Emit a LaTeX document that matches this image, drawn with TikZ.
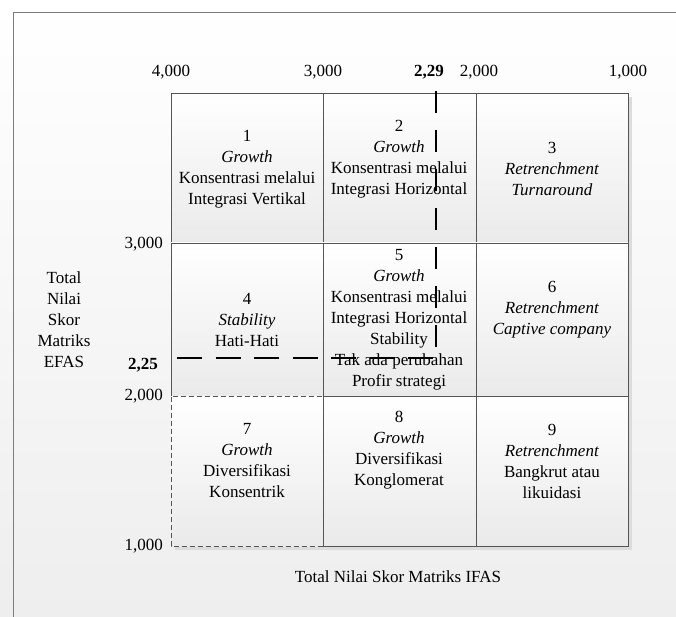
\documentclass[tikz,border=0pt]{standalone}
\usepackage{fontspec}
\setmainfont{Liberation Serif}
\usepackage{tikz}
\usetikzlibrary{positioning, calc}
\definecolor{gridgray}{RGB}{85,85,85}
\definecolor{cellbot}{RGB}{234,234,234}
\definecolor{bgbot}{RGB}{238,238,238}
\definecolor{shadowgray}{RGB}{220,220,220}
\definecolor{framegray}{RGB}{125,125,125}
\newcommand{\matfont}{\fontsize{17pt}{21pt}\selectfont}
\tikzset{
  cellbox/.style={draw=gridgray, line width=0.9pt,
    top color=white, bottom color=cellbot},
  dashbox/.style={draw=gridgray, line width=0.7pt,
    dash pattern=on 5pt off 3pt},
  shadowbox/.style={fill=shadowgray, draw=none},
  celltext/.style={align=center, inner sep=0pt, font=\matfont},
  axislabel/.style={inner sep=0pt, font=\matfont},
  scorelabel/.style={inner sep=0pt, font=\matfont\bfseries},
  cutline/.style={line width=2.6pt, color=black}
}

\begin{document}
\begin{tikzpicture}[x=1pt, y=-1pt, font=\matfont]
  % page and frame
  \useasboundingbox (0,0) rectangle (676,617);
  \shade[top color=white, bottom color=bgbot] (0,0) rectangle (676,617);
  \draw[framegray, line width=0.8pt] (13,617) -- (13,12) -- (676,12);
  % shadow of the grid
  \fill[shadowbox] (175,97) rectangle (632,550);
  % cells, row 1
  \draw[cellbox] (171,93) rectangle (323,243);
  \draw[cellbox] (323,93) rectangle (476,243);
  \draw[cellbox] (476,93) rectangle (628,243);
  % cells, row 2
  \draw[cellbox] (171,243) rectangle (323,396);
  \draw[cellbox] (323,243) rectangle (476,396);
  \draw[cellbox] (476,243) rectangle (628,396);
  % cells, row 3
  \shade[top color=white, bottom color=cellbot] (171,396) rectangle (323,546);
  \draw[cellbox] (323,396) rectangle (476,546);
  \draw[cellbox] (476,396) rectangle (628,546);
  \draw[white, line width=1pt] (171,396) -- (323,396);
  \draw[dashbox] (323,546) -- (171,546) -- (171,396) -- (323,396);
  % cell texts
  \node[celltext] (c1) at (247,169) {1\\\textit{Growth}\\Konsentrasi melalui\\Integrasi Vertikal};
  \node[celltext] (c2) at (399,159) {2\\\textit{Growth}\\Konsentrasi melalui\\Integrasi Horizontal};
  \node[celltext] (c3) at (552,169) {3\\\textit{Retrenchment}\\\textit{Turnaround}};
  \node[celltext] (c4) at (247,320) {4\\\textit{Stability}\\Hati-Hati};
  \node[celltext] (c5) at (399,320) {5\\\textit{Growth}\\Konsentrasi melalui\\Integrasi Horizontal\\Stability\\Tak ada perubahan\\Profir strategi};
  \node[celltext] (c6) at (552,310) {6\\\textit{Retrenchment}\\\textit{Captive company}};
  \node[celltext] (c7) at (247,461) {7\\\textit{Growth}\\Diversifikasi\\Konsentrik};
  \node[celltext] (c8) at (399,450) {8\\\textit{Growth}\\Diversifikasi\\Konglomerat};
  \node[celltext] (c9) at (552,461) {9\\\textit{Retrenchment}\\Bangkrut atau\\likuidasi};
  % IFAS scale
  \node[axislabel] (x4) at (171,72) {4,000};
  \node[axislabel] (x3) at (323,72) {3,000};
  \node[scorelabel] (xs) at (429,72) {2,29};
  \node[axislabel] (x2) at (479,72) {2,000};
  \node[axislabel] (x1) at (628,72) {1,000};
  % EFAS scale
  \node[axislabel, anchor=east] (y3) at (163,244) {3,000};
  \node[scorelabel] (ys) at (143,365) {2,25};
  \node[axislabel, anchor=east] (y2) at (163,396) {2,000};
  \node[axislabel, anchor=east] (y1) at (163,546) {1,000};
  % axis titles
  \node[celltext] (efas) at (64,320) {Total\\Nilai\\Skor\\Matriks\\EFAS};
  \node[axislabel] (ifas) at (398,577) {Total Nilai Skor Matriks IFAS};
  % position lines
  \coordinate (vtop) at (436,91);
  \coordinate (vbot) at (436,347);
  \coordinate (hlft) at (177,358);
  \coordinate (hrgt) at (434,358);
  \draw[cutline, dash pattern=on 22pt off 17pt] (vtop) -- (vbot);
  \draw[cutline, dash pattern=on 25pt off 13.5pt] (hlft) -- (hrgt);
\end{tikzpicture}
\end{document}
